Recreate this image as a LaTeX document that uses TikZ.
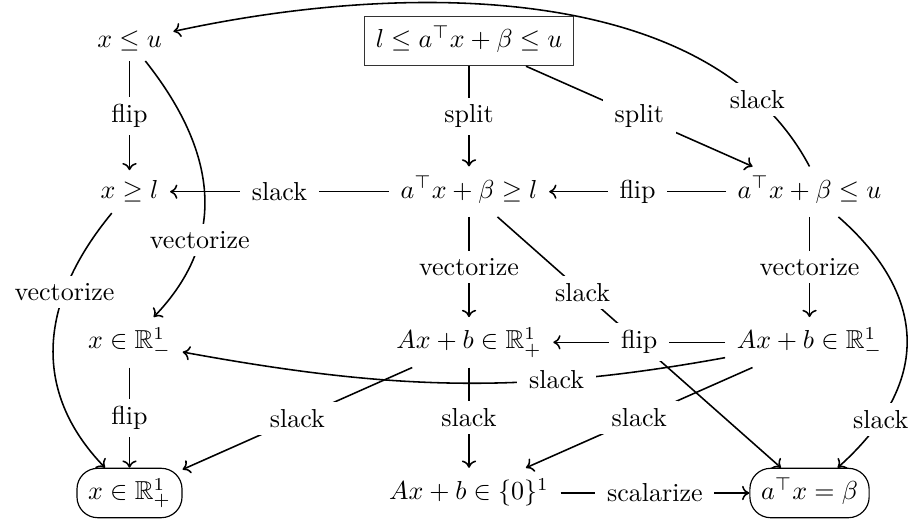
\documentclass[tikz,border=0pt]{standalone}
\usepackage{amssymb}
\usetikzlibrary{arrows.meta}
\begin{document}
\begin{tikzpicture}[x=0.3846pt,y=-0.3846pt,
  cell/.style={inner xsep=4.3pt,inner ysep=3.6pt,text height=8.4pt,text depth=3.4pt},
  cellA/.style={cell,text height=6.4pt,text depth=1.4pt},
  cellC/.style={cell,text height=6.95pt,text depth=1.95pt},
  sqbox/.style={cell,draw=black!80,line width=0.4pt},
  rbox/.style={cell,draw,line width=0.45pt,rounded corners=8pt},
  arr/.style={line width=0.6pt,-{To[length=2.8pt,width=5.5pt]}},
  lab/.style={fill=white,inner xsep=4.5pt,inner ysep=2.8pt}
]
\useasboundingbox (0,0) rectangle (912,519);
% nodes
\node[cellA] (A) at (129.5,41) {$x \le u$};
\node[sqbox] (B) at (469,41) {$l \le a^\top x + \beta \le u$};
\node[cellC] (C) at (129.5,191.7) {$x \ge l$};
\node[cell] (D) at (469,191.7) {$a^\top x + \beta \ge l$};
\node[cell] (E) at (809.5,191.7) {$a^\top x + \beta \le u$};
\node[cell] (F) at (129.5,342.3) {$x \in \mathbb{R}^1_-$};
\node[cell] (G) at (469,342.3) {$Ax + b \in \mathbb{R}^1_+$};
\node[cell] (H) at (809.5,342.3) {$Ax + b \in \mathbb{R}^1_-$};
\node[rbox] (I) at (129.5,493) {$x \in \mathbb{R}^1_+$};
\node[cell] (J) at (469,493) {$Ax + b \in \{0\}^1$};
\node[rbox] (K) at (809.5,493) {$a^\top x = \beta$};
% connectors
\draw[arr] (A) -- node[lab,midway]{flip} (C);
\draw[arr] (A) .. controls (200,130) and (242,225) .. (F) node[lab,pos=0.72]{vectorize};
\draw[arr] (C) .. controls (40,300) and (30,390) .. (I) node[lab,pos=0.3]{vectorize};
\draw[arr] (B) -- node[lab,midway]{split} (D);
\draw[arr] (B) -- node[lab,midway]{split} (E);
\draw[arr] (E.north) .. controls (712,-18) and (410,-20) .. (A) node[lab,pos=0.14]{slack};
\draw[arr] (D) -- node[lab,midway]{slack} (C);
\draw[arr] (D) -- node[lab,pos=0.3]{slack} (K);
\draw[arr] (E) -- node[lab,midway]{flip} (D);
\draw[arr] (D) -- node[lab,midway]{vectorize} (G);
\draw[arr] (E) -- node[lab,midway]{vectorize} (H);
\draw[arr] (E) .. controls (905,275) and (952,365) .. (K) node[lab,pos=0.84]{slack};
\draw[arr] (H) -- node[lab,midway]{flip} (G);
\draw[arr] (H) .. controls (520,395) and (390,390) .. (F) node[lab,pos=0.3]{slack};
\draw[arr] (F) -- node[lab,midway]{flip} (I);
\draw[arr] (G) -- node[lab,midway]{slack} (I);
\draw[arr] (G) -- node[lab,midway]{slack} (J);
\draw[arr] (H) -- node[lab,midway]{slack} (J);
\draw[arr] (J) -- node[lab,midway]{scalarize} (K);
\end{tikzpicture}
\end{document}
